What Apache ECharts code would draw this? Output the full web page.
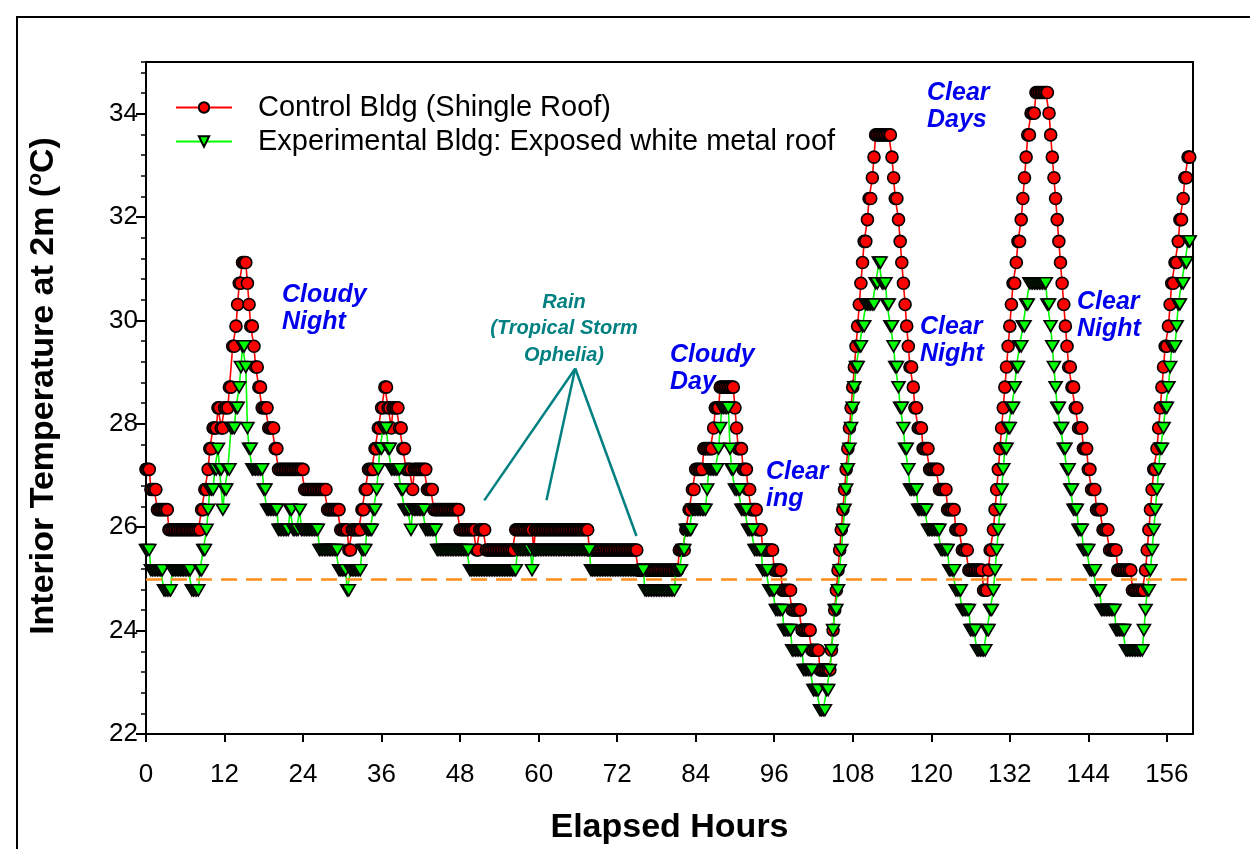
<!DOCTYPE html>
<html>
<head>
<meta charset="utf-8">
<script src="https://cdn.jsdelivr.net/npm/echarts@6/dist/echarts.min.js"></script>
<style>
html,body{margin:0;padding:0;background:#fff;}
#chart{width:1250px;height:849px;}
</style>
</head>
<body>
<div id="chart"></div>
<script>
// Step readings: [hour at which reading starts, temperature °C]
const ctrlRuns = [[0,27.12],[0.75,26.73],[1.75,26.34],[3.5,25.95],[8.5,26.34],[9,26.73],[9.5,27.12],[9.75,27.52],[10.25,27.92],[11,28.31],[11.5,27.92],[12,28.31],[12.75,28.71],[13.25,29.50],[13.75,29.89],[14,30.31],[14.25,30.72],[14.75,31.12],[15.5,30.72],[15.75,30.31],[16,29.89],[16.5,29.50],[16.75,29.10],[17.25,28.71],[17.75,28.31],[18.75,27.92],[19.75,27.52],[20.25,27.12],[24.25,26.73],[27.75,26.34],[29.75,25.95],[31,25.56],[31.5,25.95],[33,26.34],[33.5,26.73],[34,27.12],[35,27.52],[35.5,27.92],[36,28.31],[36.5,28.71],[37,28.31],[37.5,27.92],[37.75,28.31],[38.75,27.92],[39.25,27.52],[39.75,27.12],[40.75,26.73],[41,27.12],[43,26.73],[44,26.34],[48,25.95],[50.5,25.56],[51,25.95],[52,25.56],[56.5,25.95],[59.25,25.56],[59.5,25.95],[67.75,25.56],[75.25,25.17],[81.5,25.56],[82.5,25.95],[83,26.34],[83.5,26.73],[84,27.12],[85.25,27.52],[86.75,27.92],[87,28.31],[87.75,28.71],[90,28.31],[90.25,27.92],[90.5,27.52],[91.25,27.12],[92,26.73],[92.5,26.34],[93.5,25.95],[94.25,25.56],[96,25.17],[97.25,24.78],[98.75,24.40],[100.25,24.01],[101.75,23.62],[103,23.24],[104.75,23.62],[105,24.01],[105.25,24.40],[105.5,24.78],[105.75,25.17],[106,25.56],[106.25,25.95],[106.5,26.34],[106.75,26.73],[107,27.12],[107.25,27.52],[107.5,27.92],[107.75,28.31],[108,28.71],[108.25,29.10],[108.5,29.50],[108.75,29.89],[109,30.31],[109.25,30.72],[109.5,31.12],[109.75,31.53],[110.25,31.95],[110.5,32.36],[111,32.76],[111.25,33.16],[111.5,33.59],[114,33.16],[114.25,32.76],[114.5,32.36],[115,31.95],[115.25,31.53],[115.5,31.12],[115.75,30.72],[116,30.31],[116.25,29.89],[116.5,29.50],[116.75,29.10],[117.25,28.71],[117.5,28.31],[118,27.92],[118.75,27.52],[119.75,27.12],[121.25,26.73],[122.5,26.34],[123.75,25.95],[124.75,25.56],[125.75,25.17],[128,24.78],[128.75,25.17],[129,25.56],[129.5,25.95],[129.75,26.34],[130,26.73],[130.25,27.12],[130.5,27.52],[130.75,27.92],[131,28.31],[131.25,28.71],[131.5,29.10],[131.75,29.50],[132,29.89],[132.25,30.31],[132.5,30.72],[133,31.12],[133.25,31.53],[133.75,31.95],[134,32.36],[134.25,32.76],[134.5,33.16],[134.75,33.59],[135.25,34.01],[136,34.41],[138,34.01],[138.25,33.59],[138.5,33.16],[138.75,32.76],[139,32.36],[139.25,31.95],[139.5,31.53],[139.75,31.12],[140,30.72],[140.25,30.31],[140.5,29.89],[140.75,29.50],[141,29.10],[141.5,28.71],[142,28.31],[142.5,27.92],[143.25,27.52],[144,27.12],[144.5,26.73],[145.25,26.34],[146.25,25.95],[147.25,25.56],[148.5,25.17],[150.75,24.78],[152.75,25.17],[153,25.56],[153.25,25.95],[153.5,26.34],[153.75,26.73],[154,27.12],[154.5,27.52],[154.75,27.92],[155,28.31],[155.25,28.71],[155.5,29.10],[155.75,29.50],[156.25,29.89],[156.5,30.31],[156.75,30.72],[157.25,31.12],[157.75,31.53],[158,31.95],[158.5,32.36],[158.75,32.76],[159.25,33.16]];

const expRuns = [[0,25.56],[0.75,25.17],[2.75,24.78],[4,25.17],[7,24.78],[8.25,25.17],[8.75,25.56],[9.25,25.95],[9.5,26.34],[9.75,26.73],[10.5,27.12],[11,27.52],[11.25,27.12],[11.75,26.34],[12,26.73],[12.5,27.12],[13,27.92],[13.75,28.31],[14.25,28.71],[14.5,29.10],[14.75,29.50],[15.25,29.10],[15.5,27.92],[15.75,27.52],[16.25,27.12],[18,26.73],[18.5,26.34],[20.25,25.95],[22,26.34],[22.5,25.95],[23.5,26.34],[23.75,25.95],[26.5,25.56],[29.5,25.17],[30.75,24.78],[31.25,25.17],[33,25.56],[33.75,25.95],[34.75,26.34],[35.25,26.73],[35.5,27.12],[35.75,27.52],[36.25,27.92],[37,27.52],[37.5,27.12],[39,26.73],[39.5,26.34],[40.5,25.95],[40.75,26.34],[42.75,25.95],[44.5,25.56],[49.5,25.17],[56.75,25.56],[59,25.17],[59.25,25.56],[68,25.17],[76.25,24.78],[81,25.17],[82,25.56],[82.5,25.95],[83.5,26.34],[85.75,26.73],[86,27.12],[87.5,27.52],[87.75,27.92],[88,28.31],[89.25,27.52],[89.5,27.12],[90,26.73],[91,26.34],[92,25.95],[93,25.56],[94.25,25.17],[95.25,24.78],[96.25,24.40],[97.5,24.01],[98.75,23.62],[100.5,23.24],[102,22.85],[103,22.46],[104,22.85],[104.5,23.24],[104.75,23.62],[105,24.01],[105.25,24.40],[105.75,24.78],[106,25.17],[106.25,25.56],[106.5,25.95],[106.75,26.34],[107,26.73],[107.25,27.12],[107.5,27.52],[107.75,27.92],[108,28.31],[108.25,28.71],[108.5,29.10],[109,29.50],[109.5,29.89],[110,30.31],[111.5,30.72],[112,31.12],[112.5,30.72],[113.25,30.31],[113.75,29.89],[114.25,29.50],[114.5,29.10],[115,28.71],[115.25,28.31],[115.75,27.92],[116,27.52],[116.5,27.12],[116.75,26.73],[118,26.34],[119.5,25.95],[121.5,25.56],[122.75,25.17],[123.75,24.78],[124.75,24.40],[126,24.01],[127,23.62],[128.5,24.01],[129,24.40],[129.5,24.78],[129.75,25.17],[130,25.56],[130.25,25.95],[130.5,26.34],[130.75,26.73],[131,27.12],[131.25,27.52],[131.75,27.92],[132.25,28.31],[132.75,28.71],[133,29.10],[133.5,29.50],[134,29.89],[134.5,30.31],[135,30.72],[137.75,30.31],[138.25,29.89],[138.5,29.50],[138.75,29.10],[139,28.71],[139.25,28.31],[139.75,27.92],[140.25,27.52],[140.75,27.12],[141.25,26.73],[141.75,26.34],[142.5,25.95],[143.25,25.56],[144.25,25.17],[145.25,24.78],[146,24.40],[148.25,24.01],[149.75,23.62],[152.5,24.01],[152.75,24.40],[153,24.78],[153.5,25.17],[153.75,25.56],[154,25.95],[154.25,26.34],[154.5,26.73],[154.75,27.12],[155,27.52],[155.5,27.92],[155.75,28.31],[156.25,28.71],[156.5,29.10],[156.75,29.50],[157.5,29.89],[157.75,30.31],[158.25,30.72],[158.75,31.12],[159.25,31.53]];

const logStepHours = 0.25;   // logger interval (marker spacing)
const lastHour = 159.5;
const setpoint = 25;
const xTicks = [0, 12, 24, 36, 48, 60, 72, 84, 96, 108, 120, 132, 144, 156];
const yTicks = [22, 24, 26, 28, 30, 32, 34];
const seriesNames = ['Control Bldg (Shingle Roof)', 'Experimental Bldg: Exposed white metal roof'];
// annotation pointer lines [hour, temp]
const rainFrom = [65.6, 29.07];
const rainTo = [[51.7, 26.52], [61.2, 26.52], [74.95, 25.83]];

function expand(runs) {
  const out = [];
  let j = 0;
  for (let i = 0; i * logStepHours <= lastHour + 1e-9; i++) {
    const t = i * logStepHours;
    while (j + 1 < runs.length && runs[j + 1][0] <= t + 1e-9) j++;
    out.push([t, runs[j][1]]);
  }
  return out;
}

const FONT = 'Liberation Sans, Arial, sans-serif';
const chart = echarts.init(document.getElementById('chart'), null, {renderer: 'canvas'});

const blueTxt = (x, y, txt) => ({
  type: 'text', left: x, top: y,
  style: {text: txt, fill: '#0000ee', font: 'italic bold 25px ' + FONT, lineHeight: 27}
});

chart.setOption({
  animation: false,
  backgroundColor: '#fff',
  grid: {left: 146, top: 62, right: 57, bottom: 115, show: true, borderColor: '#000', borderWidth: 2,
    backgroundColor: 'transparent', containLabel: false, outerBoundsMode: 'none'},
  legend: {
    data: seriesNames, orient: 'vertical', left: 170, top: 88, itemWidth: 56, itemHeight: 13, itemGap: 5,
    textStyle: {fontSize: 29, fontFamily: FONT, color: '#000', padding: [0, 0, 0, 21]}
  },
  xAxis: {
    type: 'value', min: 0, max: 160, interval: 12,
    axisLine: {lineStyle: {color: '#000', width: 2}},
    axisTick: {show: true, length: 8, lineStyle: {color: '#000', width: 2}},
    axisLabel: {fontSize: 26, fontFamily: FONT, color: '#000', margin: 28, showMaxLabel: false,
      formatter: v => xTicks.includes(v) ? String(v) : ''},
    splitLine: {show: false},
    name: 'Elapsed Hours', nameLocation: 'middle', nameGap: 77,
    nameTextStyle: {fontSize: 34, fontWeight: 'bold', fontFamily: FONT, color: '#000'}
  },
  yAxis: [{
    type: 'value', min: 22, max: 35, interval: 2,
    axisLine: {show: true, lineStyle: {color: '#000', width: 2}},
    axisTick: {show: true, length: 10, lineStyle: {color: '#000', width: 2}},
    axisLabel: {fontSize: 26, fontFamily: FONT, color: '#000', margin: 8, showMaxLabel: false,
      formatter: v => yTicks.includes(v) ? String(v) : ''},
    splitLine: {show: false},
    name: 'Interior Temperature at 2m ({s|o}C)', nameLocation: 'middle', nameGap: 84,
    nameTextStyle: {fontSize: 34, fontWeight: 'bold', fontFamily: FONT, color: '#000', padding: [0, 0, 0, 24],
      rich: {s: {fontSize: 21, fontWeight: 'bold', fontFamily: FONT, color: '#000', padding: [0, 0, 16, 0]}}}
  }, {
    type: 'value', min: 22, max: 35, interval: 0.4, position: 'left',
    axisLine: {show: false}, axisLabel: {show: false}, splitLine: {show: false},
    axisTick: {show: true, length: 5, lineStyle: {color: '#000', width: 1.5}}
  }],
  series: [{
    name: seriesNames[0], type: 'line', data: expand(ctrlRuns), showAllSymbol: true,
    symbol: 'circle', symbolSize: 12, z: 2,
    itemStyle: {color: '#ff0000', borderColor: '#000', borderWidth: 1.6},
    lineStyle: {color: '#ff0000', width: 1.6},
    markLine: {
      silent: true, symbol: ['none', 'none'], label: {show: false},
      lineStyle: {color: '#ff8c1a', type: [16, 9], width: 2.5},
      data: [{yAxis: setpoint}]
    }
  }, {
    name: seriesNames[1], type: 'line', data: expand(expRuns), showAllSymbol: true,
    symbol: 'triangle', symbolRotate: 180, symbolSize: [13, 11], z: 3,
    itemStyle: {color: '#00ff00', borderColor: '#000', borderWidth: 1.6},
    lineStyle: {color: '#00ff00', width: 1.6},
    markLine: {
      silent: true, symbol: ['none', 'none'], label: {show: false},
      lineStyle: {color: '#008080', type: 'solid', width: 2.5},
      data: rainTo.map(p => [{coord: rainFrom}, {coord: p}])
    }
  }],
  graphic: [
    {type: 'rect', shape: {x: 17, y: 17, width: 1400, height: 1000}, style: {fill: 'none', stroke: '#000', lineWidth: 2}, silent: true},
    blueTxt(282, 282, 'Cloudy\nNight'),
    blueTxt(670, 342, 'Cloudy\nDay'),
    blueTxt(766, 459, 'Clear\ning'),
    blueTxt(927, 80, 'Clear\nDays'),
    blueTxt(920, 314, 'Clear\nNight'),
    blueTxt(1077, 289, 'Clear\nNight'),
    {type: 'text', x: 564, y: 289,
      style: {text: 'Rain\n(Tropical Storm\nOphelia)', fill: '#008080', font: 'italic bold 20px ' + FONT,
        lineHeight: 26.5, align: 'center', verticalAlign: 'top'}}
  ]
});
</script>
</body>
</html>
